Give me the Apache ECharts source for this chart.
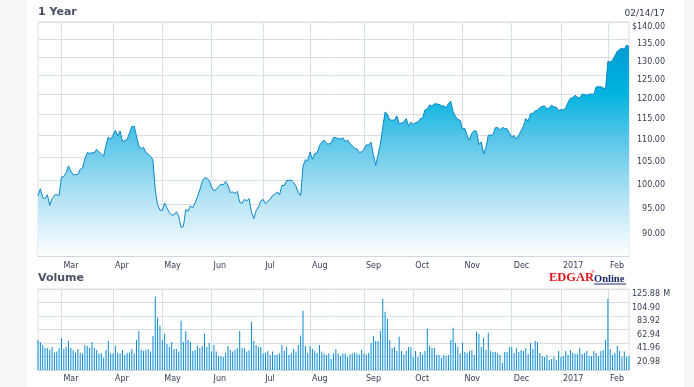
<!DOCTYPE html>
<html><head><meta charset="utf-8">
<script src="https://cdn.jsdelivr.net/npm/echarts@6/dist/echarts.min.js"></script>
<style>
html,body{margin:0;padding:0;background:#f7f6f4;width:694px;height:387px;overflow:hidden;}
#panel{position:absolute;left:27px;top:0;width:657px;height:387px;background:#fff;}
#chart{position:absolute;left:0;top:0;width:694px;height:387px;}
</style></head><body>
<div id="panel"></div><div id="chart"></div>
<script>
// Trading days Feb 16 2016 .. Feb 14 2017
const startDate = '2016-02-16', endDate = '2017-02-14';
const holidays = ['2016-03-25','2016-05-30','2016-07-04','2016-09-05','2016-11-24','2016-12-26','2017-01-02','2017-01-16'];
const monthNames = ['2017','Feb','Mar','Apr','May','Jun','Jul','Aug','Sep','Oct','Nov','Dec'];
const priceTicks = [90, 95, 100, 105, 110, 115, 120, 125, 130, 135, 140];
const volumeTicks = [20.98, 41.96, 62.94, 83.92, 104.90, 125.88];

const closes = [
 96.64,98.12,96.26,96.04,96.88,94.69,96.10,96.76,96.91,96.69,
 100.53,100.75,101.50,103.01,101.87,101.03,101.12,101.17,102.26,102.52,104.58,105.97,105.80,105.92,105.91,106.72,106.13,105.67,105.19,107.68,109.56,108.99,
 109.99,111.12,109.81,110.96,108.54,108.66,109.02,110.44,112.04,112.10,109.85,107.48,106.91,107.13,105.97,105.68,105.08,104.35,97.82,94.83,93.74,
 93.64,95.18,94.19,93.24,92.72,92.79,93.42,92.51,90.34,90.52,93.88,93.49,94.56,94.20,95.22,96.43,97.90,99.62,100.41,100.35,99.86,
 98.46,97.72,97.92,98.63,99.03,98.94,99.65,98.83,97.34,97.46,97.14,97.55,95.33,95.10,95.91,95.55,96.10,93.40,92.04,93.59,94.40,95.60,
 95.89,94.99,95.53,95.94,96.68,96.98,97.42,96.87,98.79,98.78,99.83,99.87,99.96,99.43,98.66,97.34,96.67,102.95,104.34,104.21,
 106.05,104.48,105.79,105.87,107.48,108.37,108.81,108.00,107.93,108.18,109.48,109.38,109.22,109.08,109.36,108.51,108.85,108.03,107.57,106.94,106.82,106.00,106.10,
 106.73,107.73,107.70,108.36,105.52,103.13,105.44,107.95,111.77,115.57,114.92,113.58,113.57,113.55,114.62,112.71,112.88,113.09,113.95,112.18,113.05,
 112.52,113.00,113.05,113.89,114.06,116.05,116.30,117.34,116.98,117.63,117.55,117.47,117.12,117.06,116.60,117.65,118.25,115.59,114.48,113.72,113.54,
 111.49,111.59,109.83,108.84,110.41,111.06,110.88,107.79,108.43,105.71,107.11,109.99,109.95,110.06,111.73,111.80,111.23,111.79,111.57,111.46,110.52,
 109.49,109.90,109.11,109.95,111.03,112.12,113.95,113.30,115.19,115.19,115.82,115.97,116.64,116.95,117.06,116.29,116.52,117.26,116.76,116.73,115.82,
 116.15,116.02,116.61,117.91,118.99,119.11,119.75,119.25,119.04,120.00,119.99,119.78,120.00,120.08,119.97,121.88,121.94,121.95,121.63,121.35,
 128.75,128.53,129.08,130.29,131.53,132.04,132.42,132.12,133.29,132.80
];

const volumes = [
 46.8,43.7,39.0,34.3,34.3,31.2,35.9,27.0,28.6,34.3,
 49.9,32.8,35.9,45.2,34.3,31.2,27.0,32.8,27.0,25.5,39.0,37.4,34.3,43.7,34.3,31.2,25.5,25.5,19.2,31.2,45.2,25.5,
 25.5,37.4,27.0,25.5,31.2,23.4,27.0,27.0,32.8,25.5,46.8,60.8,31.2,29.6,31.2,32.8,28.6,53.0,114.4,81.1,68.6,
 46.8,56.2,40.6,35.9,43.7,32.8,32.8,28.6,76.4,43.7,60.8,46.8,43.7,29.6,31.2,37.4,34.3,37.4,56.2,35.9,42.1,
 28.6,39.0,28.6,21.8,21.8,20.3,26.5,37.4,31.2,28.6,31.2,34.3,60.8,34.3,34.3,28.6,31.2,74.9,45.2,39.0,35.9,35.9,
 25.5,27.0,29.6,23.4,28.6,23.4,23.9,25.5,39.0,29.6,35.9,23.4,26.0,32.8,28.6,39.0,53.6,92.0,37.4,26.5,
 37.4,32.8,29.6,26.5,39.0,28.6,25.5,23.4,25.5,17.2,25.5,32.8,25.5,21.8,25.5,25.5,20.3,23.9,25.5,27.0,25.5,23.9,31.2,
 25.5,23.9,26.5,42.1,53.0,45.2,45.2,60.8,110.8,90.5,79.6,46.8,34.3,35.9,29.6,51.5,29.6,23.9,29.6,35.9,35.9,
 20.3,29.6,20.3,28.1,23.9,29.6,64.0,37.4,34.3,34.3,23.4,23.4,18.7,23.4,21.8,23.4,46.8,65.5,42.1,35.9,25.5,
 42.1,28.1,26.5,29.6,31.2,23.4,59.3,56.2,35.9,49.9,31.2,57.7,29.6,28.1,28.1,26.5,23.4,11.4,28.1,28.1,35.9,
 35.9,26.5,34.3,28.1,31.2,29.6,34.3,25.0,42.1,32.8,45.2,43.7,26.5,21.8,20.3,23.4,15.6,17.2,20.3,15.6,29.6,
 20.3,21.8,29.6,23.4,31.2,26.5,25.0,25.0,34.3,25.0,26.5,29.6,21.8,21.8,29.6,26.5,21.8,29.6,31.2,46.8,
 110.8,32.8,23.4,26.5,37.4,29.6,20.3,28.6,20.3,21.8
];

function pad(n){return n<10?'0'+n:''+n;}
function buildDays(){
  const out=[]; const d=new Date(startDate+'T12:00:00Z'); const e=new Date(endDate+'T12:00:00Z');
  while(d<=e){
    const s=d.getUTCFullYear()+'-'+pad(d.getUTCMonth()+1)+'-'+pad(d.getUTCDate());
    const wd=d.getUTCDay();
    if(wd!==0&&wd!==6&&holidays.indexOf(s)<0) out.push(s);
    d.setUTCDate(d.getUTCDate()+1);
  }
  return out;
}
const days = buildDays();
function isMonthStart(i){ return i>0 && days[i].slice(5,7)!==days[i-1].slice(5,7); }
function monthLabel(v){ return monthNames[(+v.slice(5,7))-1]; }

const FONT = 'DejaVu Sans';
const gridColor = '#d8e0e7';
const labelColor = '#343d50';

const chart = echarts.init(document.getElementById('chart'), null, {renderer:'canvas'});
const xCommon = {
  type:'category', data: days, boundaryGap:false,
  axisLine:{show:true, lineStyle:{color:'#cdd6de', width:1}},
  axisTick:{show:false},
  splitLine:{show:true, interval:(i)=>isMonthStart(i), lineStyle:{color:gridColor, width:1}},
  axisLabel:{interval:(i)=>isMonthStart(i), formatter:monthLabel, align:'left', padding:[0,0,0,2],
    fontFamily:FONT, fontSize:8, color:labelColor}
};
chart.setOption({
  animation:false,
  backgroundColor:'transparent',
  grid:[
    {left:38, top:22, width:591, height:234, show:true, borderColor:gridColor, borderWidth:1},
    {left:38, top:289, width:591, height:81, show:true, borderColor:gridColor, borderWidth:1}
  ],
  xAxis:[
    Object.assign({gridIndex:0}, xCommon, {axisLabel:Object.assign({}, xCommon.axisLabel, {margin:6})}),
    Object.assign({gridIndex:1}, xCommon, {axisLabel:Object.assign({}, xCommon.axisLabel, {margin:5})})
  ],
  yAxis:[
    {type:'log', logBase:10, gridIndex:0, position:'right', min:85, max:140,
     axisLine:{show:false},
     axisTick:{show:false, customValues:priceTicks},
     splitLine:{show:true, lineStyle:{color:gridColor, width:1}},
     axisLabel:{customValues:priceTicks, align:'right', verticalAlign:'top', margin:36, padding:[1,0,0,0],
       fontFamily:FONT, fontSize:8, color:labelColor,
       formatter:(v)=> (Math.round(v)===140?'$':'') + Number(v).toFixed(2)}},
    {type:'value', gridIndex:1, position:'right', min:0, max:125.88, interval:20.98,
     axisLine:{show:false}, axisTick:{show:false},
     splitLine:{show:true, lineStyle:{color:gridColor, width:1}},
     axisLabel:{showMinLabel:false, align:'right', verticalAlign:'top', margin:42, padding:[1,0,0,0],
       fontFamily:FONT, fontSize:8, color:labelColor,
       formatter:(v)=> v<1 ? '' : '{n|'+Number(v).toFixed(2)+'}{m|'+(v>125?' M':'')+'}',
       rich:{n:{fontFamily:FONT, fontSize:8, color:labelColor}, m:{fontFamily:FONT, fontSize:8, color:labelColor, width:11, align:'left'}}}}
  ],
  series:[
    {type:'line', xAxisIndex:0, yAxisIndex:0, data:closes, showSymbol:false, silent:true,
     lineStyle:{color:'#0a86c8', width:1},
     areaStyle:{origin:'start', color:{type:'linear', x:0, y:22, x2:0, y2:256, global:true, colorStops:[
       {offset:0, color:'#0090cc'},{offset:0.3, color:'#00b3df'},{offset:0.5, color:'#58c6e8'},
       {offset:0.72, color:'#a8dff3'},{offset:1, color:'#ffffff'}]}, opacity:1}},
    {type:'bar', xAxisIndex:1, yAxisIndex:1, data:volumes, barWidth:1, silent:true,
     itemStyle:{color:'#0a8bd2'}}
  ],
  graphic:[
    {type:'text', left:38, top:7, style:{text:'1 Year', font:'bold 11px "DejaVu Sans"', fill:'#4a5163'}},
    {type:'text', left:38, top:273, style:{text:'Volume', font:'bold 11px "DejaVu Sans"', fill:'#4a5163'}},
    {type:'text', x:665, y:14, style:{text:'02/14/17', font:'9px "DejaVu Sans"', fill:labelColor, align:'right', verticalAlign:'middle'}},
    {type:'text', x:549, y:278, style:{text:'EDGAR', font:'bold 12.5px "Liberation Serif"', fill:'#e4141c', verticalAlign:'middle'}},
    {type:'text', x:591, y:271.5, style:{text:'®', font:'4px "DejaVu Sans"', fill:'#e4141c', verticalAlign:'middle'}},
    {type:'text', x:594, y:279.5, style:{text:'Online', font:'bold 10.5px "Liberation Serif"', fill:'#1b2a6b', verticalAlign:'middle'}},
    {type:'line', shape:{x1:594, y1:284, x2:626, y2:284}, style:{stroke:'#1b2a6b', lineWidth:1}}
  ]
});
</script>
</body></html>
